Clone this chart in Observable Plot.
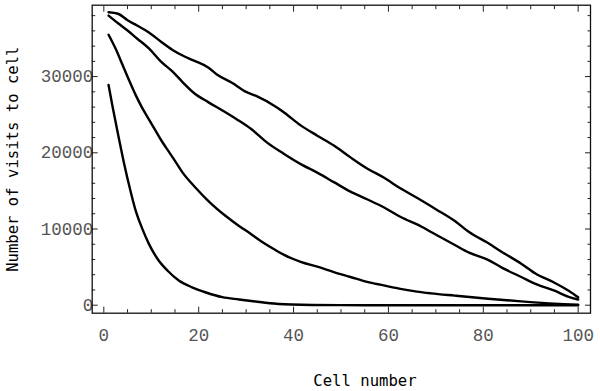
<!DOCTYPE html>
<html><head><meta charset="utf-8">
<script src="https://cdn.jsdelivr.net/npm/d3@7"></script>
<script src="https://cdn.jsdelivr.net/npm/@observablehq/plot@0.6"></script>
<style>html,body{margin:0;padding:0;background:#fff}#chart svg{display:block}</style>
</head><body><div id="chart"></div>
<script>
// Tick values
const xTicks = [0, 20, 40, 60, 80, 100];
const xMinorTicks = [5, 10, 15, 25, 30, 35, 45, 50, 55, 65, 70, 75, 85, 90, 95];
const yTicks = [0, 10000, 20000, 30000];
const yMinorTicks = [2000, 4000, 6000, 8000, 12000, 14000, 16000, 18000, 22000, 24000, 26000, 28000, 32000, 34000, 36000, 38000];

// Series (cell number, visits)
const seriesA_x = [1, 3, 5, 7, 9.5, 12, 14.5, 16.5, 19, 22, 24, 27, 30, 32, 36.5, 38, 41.5, 45, 48.5, 52, 55.5, 59, 62.5, 66, 70, 74, 77, 81, 84, 88, 91, 95, 98, 100];
const seriesA_y = [38450, 38250, 37400, 36700, 35800, 34600, 33500, 32800, 32100, 31200, 30200, 29200, 28000, 27500, 25950, 25300, 23600, 22250, 20950, 19400, 17950, 16750, 15350, 14100, 12600, 11050, 9600, 8150, 6950, 5450, 4150, 2950, 1900, 1050];

const seriesB_x = [1, 3, 5, 7, 9.5, 12, 14.5, 16.5, 19, 22, 25, 28, 31, 34.5, 38, 42, 45, 48.5, 52, 55.5, 59, 62.5, 67, 69, 74, 77, 81, 84, 88, 91, 95, 98, 100];
const seriesB_y = [38000, 37000, 36050, 35000, 33700, 32000, 30650, 29350, 27850, 26650, 25550, 24400, 23150, 21300, 19850, 18350, 17400, 16150, 14900, 13900, 12850, 11600, 10300, 9600, 7900, 6900, 5950, 4900, 3700, 2800, 1900, 1100, 750];

const seriesC_x = [1, 2.5, 4, 5.3, 6.7, 8, 9.5, 11, 12.3, 13.7, 15, 16.5, 19.3, 22, 25.7, 28.5, 31, 33, 36, 38, 41.5, 45, 48.5, 52, 55.5, 59, 62.5, 66, 69, 74, 81, 88, 95, 100];
const seriesC_y = [35500, 33650, 31450, 29550, 27600, 26000, 24400, 22800, 21450, 20150, 18950, 17500, 15450, 13700, 11700, 10400, 9350, 8450, 7300, 6600, 5700, 5050, 4350, 3700, 3050, 2600, 2150, 1780, 1550, 1250, 850, 500, 200, 60];

const seriesD_x = [1, 1.8, 2.5, 3.2, 4.2, 5.6, 6.7, 8.1, 9.5, 11.3, 13.4, 15.8, 18.6, 21.4, 25, 28.5, 32, 35, 39.5, 44, 50, 60, 70, 80, 90, 100];
const seriesD_y = [28900, 26200, 24000, 21800, 18800, 15050, 12450, 10050, 8050, 6100, 4550, 3250, 2350, 1700, 1050, 750, 480, 260, 90, 20, 5, 0, 0, 0, 0, 0];

const xLabel = "Cell number";
const yLabel = "Number of visits to cell";

const zip = (xs, ys) => xs.map((x, i) => ({x, y: ys[i]}));
const series = [zip(seriesA_x, seriesA_y), zip(seriesB_x, seriesB_y), zip(seriesC_x, seriesC_y), zip(seriesD_x, seriesD_y)];

const tickColor = "#222";
const labelColor = "#555";

const chart = Plot.plot({
  width: 600,
  height: 391,
  marginLeft: 91.7,
  marginRight: 10,
  marginTop: 4.7,
  marginBottom: 78.3,
  style: {fontFamily: "'Liberation Mono', monospace", fontSize: "17.5px", background: "#fff", color: "#000"},
  x: {domain: [-2.45, 102.6]},
  y: {domain: [-1050, 39370]},
  marks: [
    // ticks, drawn inward on all four sides
    Plot.axisX({anchor: "bottom", ticks: xTicks, tickSize: -6, text: null, label: null, stroke: tickColor}),
    Plot.axisX({anchor: "top", ticks: xTicks, tickSize: -6, text: null, label: null, stroke: tickColor}),
    Plot.axisX({anchor: "bottom", ticks: xMinorTicks, tickSize: -3.5, text: null, label: null, stroke: tickColor}),
    Plot.axisX({anchor: "top", ticks: xMinorTicks, tickSize: -3.5, text: null, label: null, stroke: tickColor}),
    Plot.axisY({anchor: "left", ticks: yTicks, tickSize: -6, text: null, label: null, stroke: tickColor}),
    Plot.axisY({anchor: "right", ticks: yTicks, tickSize: -6, text: null, label: null, stroke: tickColor}),
    Plot.axisY({anchor: "left", ticks: yMinorTicks, tickSize: -3.5, text: null, label: null, stroke: tickColor}),
    Plot.axisY({anchor: "right", ticks: yMinorTicks, tickSize: -3.5, text: null, label: null, stroke: tickColor}),
    // tick labels
    Plot.axisX({anchor: "bottom", ticks: xTicks, tickSize: 0, tickPadding: 15, label: null, fill: labelColor, tickFormat: d3.format("d")}),
    Plot.axisY({anchor: "left", ticks: yTicks, tickSize: 0, tickPadding: -1, label: null, fill: labelColor, tickFormat: d3.format("d")}),
    // series
    ...series.map(d => Plot.line(d, {x: "x", y: "y", stroke: "#000", strokeWidth: 2.4, curve: "monotone-x"})),
    Plot.frame({stroke: "#111", strokeWidth: 1.3}),
    // axis titles
    Plot.text([xLabel], {frameAnchor: "bottom", dx: 23.6, dy: 68, text: d => d, fontFamily: "'DejaVu Sans Mono', monospace", fontSize: 15.6, fill: "#000", textAnchor: "middle", lineAnchor: "middle"}),
    Plot.text([yLabel], {frameAnchor: "left", dx: -79, text: d => d, rotate: -90, fontFamily: "'DejaVu Sans Mono', monospace", fontSize: 15.6, fill: "#000", textAnchor: "middle", lineAnchor: "middle"})
  ]
});
document.getElementById("chart").appendChild(chart);
</script>
</body></html>
